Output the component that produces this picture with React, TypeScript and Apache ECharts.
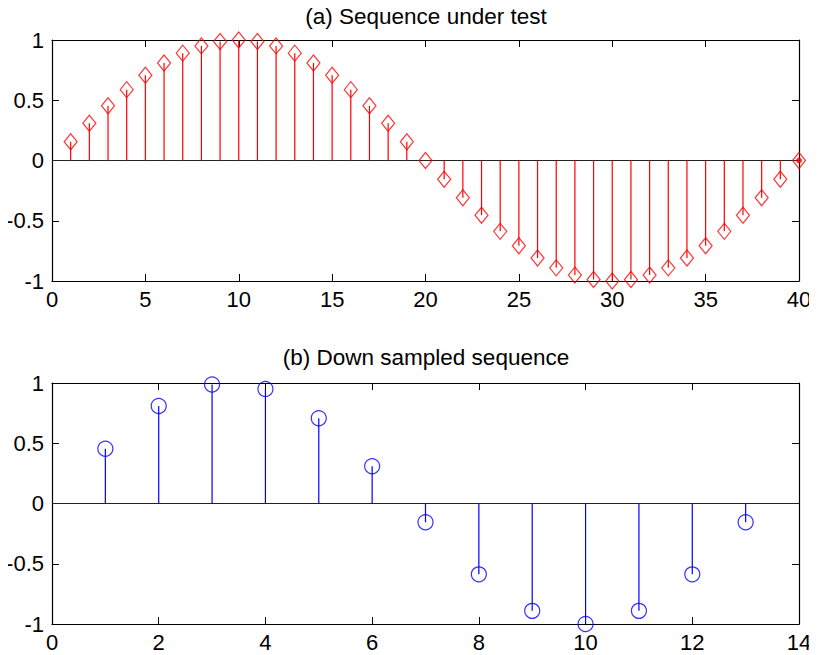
import React, { useEffect, useRef } from "react";
import * as echarts from "echarts";

const titleA = "(a) Sequence under test";
const titleB = "(b) Down sampled sequence";

const nA = [1,2,3,4,5,6,7,8,9,10,11,12,13,14,15,16,17,18,19,20,21,22,23,24,25,26,27,28,29,30,31,32,33,34,35,36,37,38,39,40];
const yA = [0.156,0.309,0.454,0.588,0.707,0.809,0.891,0.951,0.988,1.0,0.988,0.951,0.891,0.809,0.707,0.588,0.454,0.309,0.156,0.0,
  -0.156,-0.309,-0.454,-0.588,-0.707,-0.809,-0.891,-0.951,-0.988,-1.0,-0.988,-0.951,-0.891,-0.809,-0.707,-0.588,-0.454,-0.309,-0.156,0.0];

const nB = [1,2,3,4,5,6,7,8,9,10,11,12,13];
const yB = [0.454,0.809,0.988,0.951,0.707,0.309,-0.156,-0.588,-0.891,-1.0,-0.891,-0.588,-0.156];

const xRangeA = [0, 40];
const xRangeB = [0, 14];
const yRange = [-1, 1];

const FONT = "'Liberation Sans', Arial, Helvetica, sans-serif";

export default function App() {
  const ref = useRef<HTMLDivElement>(null);
  useEffect(() => {
    const chart = echarts.init(ref.current!, null, { renderer: "svg" });
    const grids = [
      { left: 52, top: 40, width: 747, height: 241 },
      { left: 52, top: 383, width: 747, height: 241 },
    ];
    const axisCommon = {
      axisLine: { show: true, onZero: false, lineStyle: { color: "#000", width: 1.2 } },
      axisTick: { show: true, inside: true, length: 7, lineStyle: { color: "#000", width: 1 } },
      splitLine: { show: false },
    };
    const labelStyle = { color: "#000", fontSize: 22, fontFamily: FONT };
    const mkX = (gi: number, range: number[], interval: number) => [
      { type: "value", gridIndex: gi, min: range[0], max: range[1], interval, position: "bottom",
        ...axisCommon, axisLabel: { ...labelStyle, margin: 7 } },
      { type: "value", gridIndex: gi, min: range[0], max: range[1], interval, position: "top",
        ...axisCommon, axisLabel: { show: false } },
    ];
    const mkY = (gi: number) => [
      { type: "value", gridIndex: gi, min: yRange[0], max: yRange[1], interval: 0.5, position: "left",
        ...axisCommon, axisLabel: { ...labelStyle, margin: 8 } },
      { type: "value", gridIndex: gi, min: yRange[0], max: yRange[1], interval: 0.5, position: "right",
        ...axisCommon, axisLabel: { show: false } },
    ];
    const stem = (xi: number, yi: number, xs: number[], ys: number[], color: string) => ({
      type: "custom",
      xAxisIndex: xi,
      yAxisIndex: yi,
      data: xs.map((x, i) => [x, ys[i]]),
      renderItem: (params: any, api: any) => {
        const x = api.value(0);
        const y = api.value(1);
        const p0 = api.coord([x, 0]);
        const p1 = api.coord([x, y]);
        return {
          type: "line",
          shape: { x1: p0[0], y1: p0[1], x2: p1[0], y2: p1[1] },
          style: { stroke: color, lineWidth: 1.2 },
        };
      },
      z: 3,
    });
    const baseline = (xi: number, yi: number, range: number[]) => ({
      type: "line",
      xAxisIndex: xi,
      yAxisIndex: yi,
      data: [[range[0], 0], [range[1], 0]],
      symbol: "none",
      lineStyle: { color: "#222", width: 1.2 },
      z: 2,
    });
    chart.setOption({
      animation: false,
      backgroundColor: "#fff",
      grid: grids,
      xAxis: [...mkX(0, xRangeA, 5), ...mkX(1, xRangeB, 2)],
      yAxis: [...mkY(0), ...mkY(1)],
      graphic: [
        { type: "text", x: 426, y: 16, style: { text: titleA, fill: "#000", font: `22.5px ${FONT}`, textAlign: "center", textVerticalAlign: "middle" } },
        { type: "text", x: 426, y: 357, style: { text: titleB, fill: "#000", font: `22.5px ${FONT}`, textAlign: "center", textVerticalAlign: "middle" } },
      ],
      series: [
        baseline(0, 0, xRangeA),
        stem(0, 0, nA, yA, "#ff0000"),
        {
          type: "scatter", xAxisIndex: 0, yAxisIndex: 0,
          data: nA.map((x, i) => [x, yA[i]]),
          symbol: "diamond", symbolSize: [13, 16],
          itemStyle: { color: "transparent", borderColor: "#ff0000", borderWidth: 1.2 },
          z: 4,
        },
        {
          type: "scatter", xAxisIndex: 0, yAxisIndex: 0,
          data: [[nA[nA.length - 1], yA[yA.length - 1]]],
          symbol: "circle", symbolSize: 6,
          itemStyle: { color: "#ff0000" },
          z: 5,
        },
        baseline(2, 2, xRangeB),
        stem(2, 2, nB, yB, "#0000ff"),
        {
          type: "scatter", xAxisIndex: 2, yAxisIndex: 2,
          data: nB.map((x, i) => [x, yB[i]]),
          symbol: "circle", symbolSize: 15,
          itemStyle: { color: "transparent", borderColor: "#0000ff", borderWidth: 1.2 },
          z: 4,
        },
      ],
    });
    return () => chart.dispose();
  }, []);
  return <div ref={ref} style={{ width: 817, height: 655, marginLeft: -8, marginTop: -8 }} />;
}
